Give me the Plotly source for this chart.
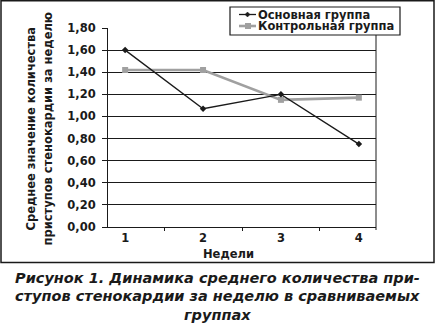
import plotly.graph_objects as go

weeks = ["1", "2", "3", "4"]
main_group = [1.60, 1.07, 1.20, 0.75]
control_group = [1.42, 1.42, 1.15, 1.17]
series_names = ["Основная группа", "Контрольная группа"]
y_ticks = [0, 0.2, 0.4, 0.6, 0.8, 1.0, 1.2, 1.4, 1.6, 1.8]
y_title = ["Среднее значение количества", "приступов стенокардии за неделю"]
x_title = "Недели"
caption = ["Рисунок 1. Динамика среднего количества при-",
           "ступов стенокардии за неделю в сравниваемых",
           "группах"]

FONT = "DejaVu Sans, Liberation Sans, sans-serif"
INK = "#1a1a1a"
GRAY = "#a0a0a0"

# pixel geometry helpers (plot area: x 108..376, y 28..227)
PX0, PW, PY0, PH = 108, 268, 28, 199
def px(x):
    return (x - PX0) / PW
def py(y):
    return (PY0 + PH - y) / PH

fig = go.Figure()
fig.add_trace(go.Scatter(
    x=weeks, y=control_group, name=series_names[1], mode="lines+markers",
    line=dict(color=GRAY, width=2.6),
    marker=dict(symbol="square", size=6, color=GRAY),
    showlegend=False))
fig.add_trace(go.Scatter(
    x=weeks, y=main_group, name=series_names[0], mode="lines+markers",
    line=dict(color=INK, width=1.3),
    marker=dict(symbol="diamond", size=5, color=INK),
    showlegend=False))

shapes = []
annotations = []

def bold(size, italic=False):
    d = dict(family=FONT, size=size, color=INK, weight="bold")
    if italic:
        d["style"] = "italic"
    return d

# outer frame
shapes.append(dict(type="rect", xref="paper", yref="paper",
                   x0=px(1), x1=px(434), y0=py(262.5), y1=py(0.8),
                   line=dict(color=INK, width=1.5), fillcolor="rgba(0,0,0,0)"))
# plot area right border
shapes.append(dict(type="line", xref="paper", yref="paper",
                   x0=1, x1=1, y0=py(230), y1=py(35),
                   line=dict(color=INK, width=1)))
# legend box
shapes.append(dict(type="rect", xref="paper", yref="paper",
                   x0=px(230), x1=px(400), y0=py(35), y1=py(7),
                   line=dict(color=INK, width=1.2), fillcolor="white"))
# legend symbols
shapes.append(dict(type="line", xref="paper", yref="paper",
                   x0=px(239), x1=px(256), y0=py(14.5), y1=py(14.5),
                   line=dict(color=INK, width=1.3)))
shapes.append(dict(type="path", xref="paper", yref="paper",
                   path=f"M {px(247.5)} {py(12)} L {px(250)} {py(14.5)} L {px(247.5)} {py(17)} L {px(245)} {py(14.5)} Z",
                   line=dict(color=INK, width=0.5), fillcolor=INK))
shapes.append(dict(type="line", xref="paper", yref="paper",
                   x0=px(239), x1=px(256), y0=py(26), y1=py(26),
                   line=dict(color=GRAY, width=2.6)))
shapes.append(dict(type="rect", xref="paper", yref="paper",
                   x0=px(245), x1=px(251), y0=py(29), y1=py(23),
                   line=dict(color=GRAY, width=0), fillcolor=GRAY))

annotations.append(dict(text=series_names[0], xref="paper", yref="paper",
                        x=px(255.5), y=py(14.5), xanchor="left", yanchor="middle",
                        showarrow=False, font=bold(11.5)))
annotations.append(dict(text=series_names[1], xref="paper", yref="paper",
                        x=px(255.5), y=py(26.5), xanchor="left", yanchor="middle",
                        showarrow=False, font=bold(11.5)))

# y-axis title (two lines)
for xc, line in zip([30.5, 47.5], y_title):
    annotations.append(dict(text=line, xref="paper", yref="paper",
                            x=px(xc), y=py(129), xanchor="center", yanchor="middle",
                            textangle=-90, showarrow=False, font=bold(11.5)))
# x-axis title
annotations.append(dict(text=x_title, xref="paper", yref="paper",
                        x=px(228), y=py(254), xanchor="center", yanchor="middle",
                        showarrow=False, font=bold(11.5)))

# caption
for i, line in enumerate(caption):
    annotations.append(dict(text=line, xref="paper", yref="paper",
                            x=px(217.5), y=py(277.5 + 18.5 * i),
                            xanchor="center", yanchor="middle",
                            showarrow=False, font=bold(14.5, italic=True)))

fig.update_layout(
    width=435, height=323,
    margin=dict(l=PX0, r=435 - PX0 - PW, t=PY0, b=323 - PY0 - PH, pad=0),
    paper_bgcolor="white", plot_bgcolor="white",
    separators=", ",
    shapes=shapes, annotations=annotations,
    showlegend=False,
    font=dict(family=FONT, color=INK),
)
fig.update_xaxes(
    type="category", tickson="boundaries", ticks="outside", ticklen=3,
    tickcolor=INK, tickwidth=1, showline=True, linecolor=INK, linewidth=1,
    showgrid=False, zeroline=False,
    tickfont=bold(11.5),
)
fig.update_yaxes(
    range=[0, 1.8], tickvals=y_ticks, tickformat=".2f",
    ticks="outside", ticklen=5, tickcolor=INK, tickwidth=1,
    showline=True, linecolor=INK, linewidth=1,
    showgrid=True, gridcolor=INK, gridwidth=1, zeroline=False,
    ticklabelstandoff=4,
    tickfont=bold(11.5),
)

fig.write_html("out.html")
